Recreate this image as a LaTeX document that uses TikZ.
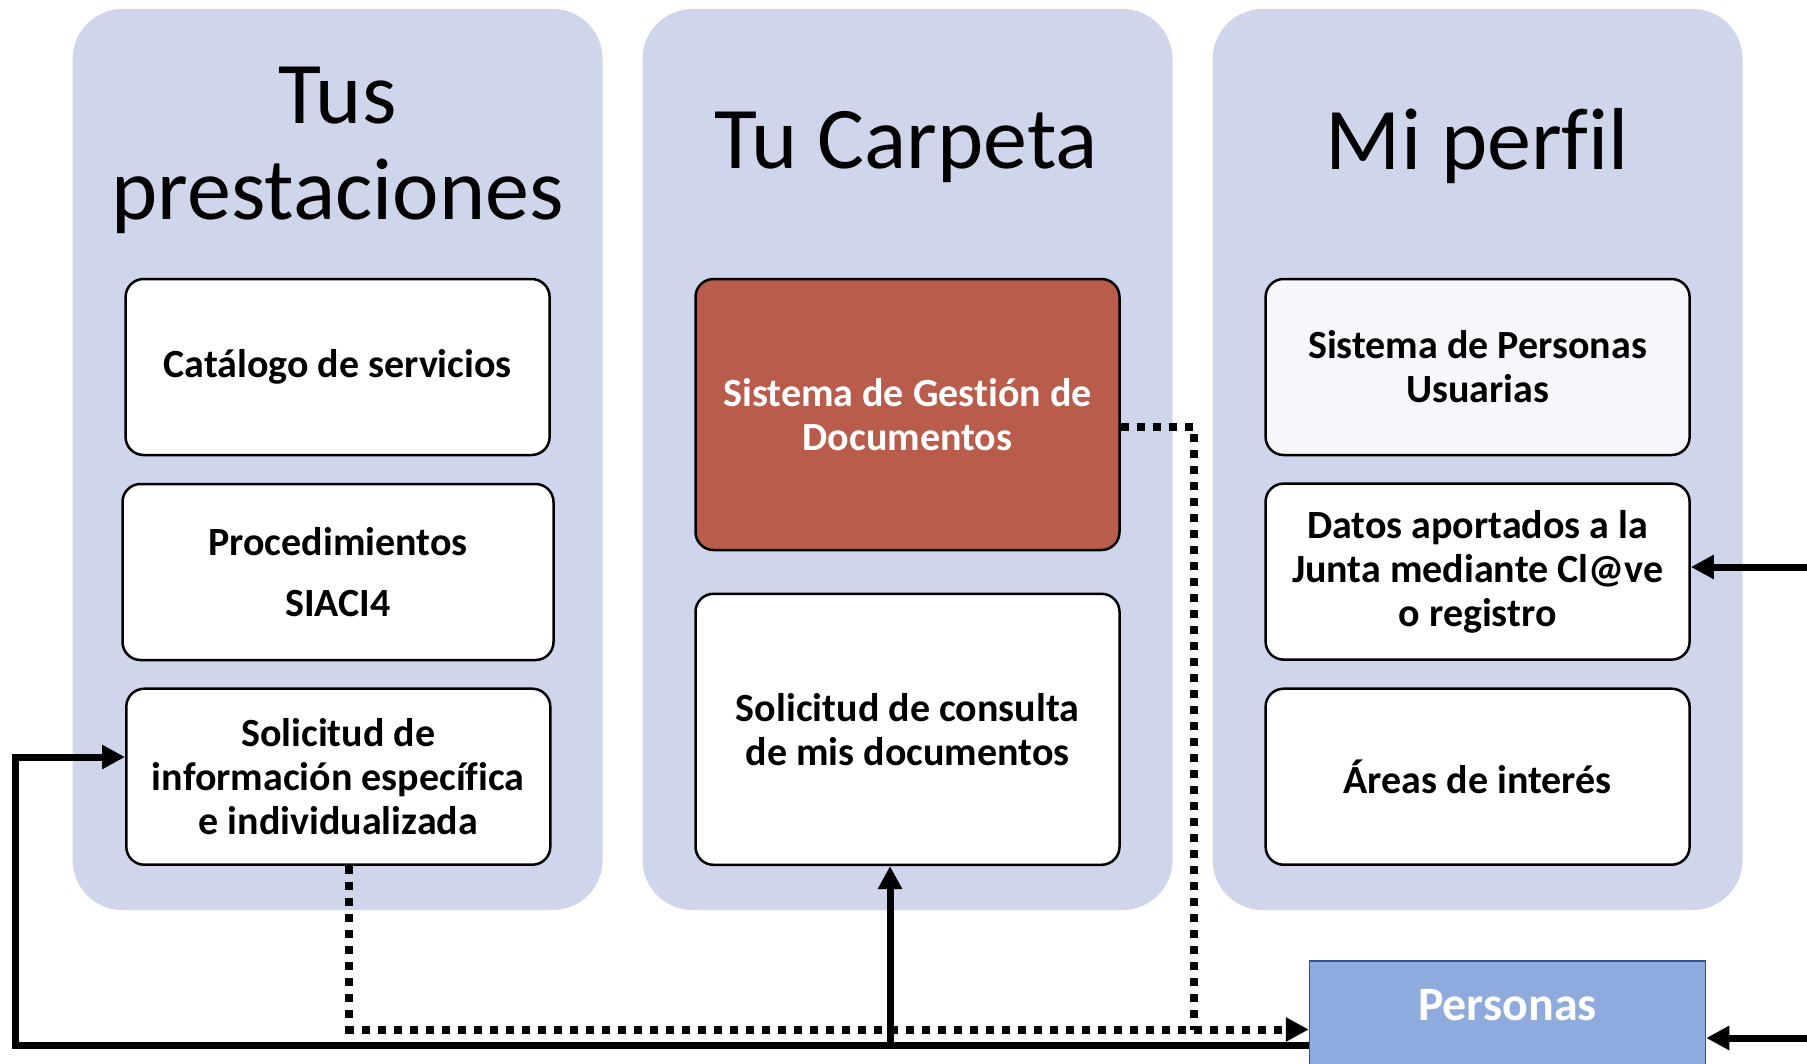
\documentclass[tikz,border=0pt]{standalone}
\usepackage{fontspec}
\setmainfont{Carlito}[Ligatures=NoCommon]
\usetikzlibrary{arrows.meta}
\definecolor{panelblue}{RGB}{207,213,234}
\definecolor{docred}{RGB}{186,92,76}
\definecolor{persblue}{RGB}{143,170,220}
\definecolor{persedge}{RGB}{47,82,143}
\definecolor{paleblue}{RGB}{245,247,251}

\begin{document}
\begin{tikzpicture}[x=1pt, y=-1pt,
  panel/.style={fill=panelblue, rounded corners=50pt, minimum width=530pt, minimum height=901pt, inner sep=0pt},
  heading/.style={align=center, inner sep=0pt, font=\fontsize{88}{96}\selectfont},
  card/.style={draw, fill=white, line width=2.5pt, rounded corners=18pt, minimum width=424pt, minimum height=176pt, align=center, inner sep=0pt, font=\fontsize{40}{44}\selectfont\bfseries},
  link/.style={line width=7pt},
  dotline/.style={line width=8pt, dash pattern=on 8pt off 8pt},
  arrowhd/.style={-{Triangle[length=23pt, width=23pt]}}]
\useasboundingbox (0,0) rectangle (1807,1063);
\clip (0,0) rectangle (1807,1063);

\node [panel] (colPrest) at (337.6, 459.5) {};
\node [panel] (colCarp) at (907.5, 459.5) {};
\node [panel] (colPerf) at (1477.6, 459.5) {};

\node [heading] (tPrest) at (337.6, 150) {Tus\\prestaciones};
\node [heading, anchor=base] (tCarp) at (906, 168.3) {Tu Carpeta};
\node [heading, anchor=base] (tPerf) at (1477.6, 169) {Mi perfil};

\node [card] (catal) at (337.6, 367) {Catálogo de servicios};
\node [card, minimum width=431pt] (proc) at (338, 572) {Procedimientos\\[17pt]SIACI4};
\node [card] (info) at (338.3, 776.7) {Solicitud de\\información específica\\e individualizada};

\node [card, fill=docred, text=white, minimum height=271pt] (gest) at (907.5, 414.5) {Sistema de Gestión de\\Documentos};
\node [card, minimum height=271pt] (cons) at (907.5, 729.3) {Solicitud de consulta\\de mis documentos};

\node [card, fill=paleblue] (usua) at (1477.6, 367) {Sistema de Personas\\Usuarias};
\node [card] (datos) at (1477.6, 571.6) {Datos aportados a la\\Junta mediante Cl@ve\\o registro};
\node [card] (areas) at (1477.6, 776.7) {Áreas de interés};

\node [draw=persedge, line width=1.5pt, fill=persblue, text=white, inner sep=0pt, minimum width=396pt, text height=59pt, text depth=78pt, font=\fontsize{48}{52}\selectfont\bfseries] (pers) at (1507.5, 1029.5) {Personas};

\coordinate (busR) at ([yshift=-15.5pt]pers.west);
\coordinate (loopL) at (15, 757);
\coordinate (busM) at (890, 1045);
\coordinate (dotR) at (1194, 0);
\coordinate (inDatos) at (1807, 567);
\coordinate (inPers) at (1807, 1038);

\draw [link, arrowhd] (busR) -| (loopL) -- (loopL -| info.west);
\draw [link, arrowhd] (busM) -- (busM |- cons.south);

\draw [dotline] ([yshift=-12.5pt]gest.east) -| (pers.west -| dotR);
\draw [dotline, arrowhd] ([xshift=11pt]info.south) |- (pers.west);

\draw [link, arrowhd] (inDatos) -- (inDatos -| datos.east);
\draw [link, arrowhd] (inPers) -- (inPers -| pers.east);
\end{tikzpicture}
\end{document}
